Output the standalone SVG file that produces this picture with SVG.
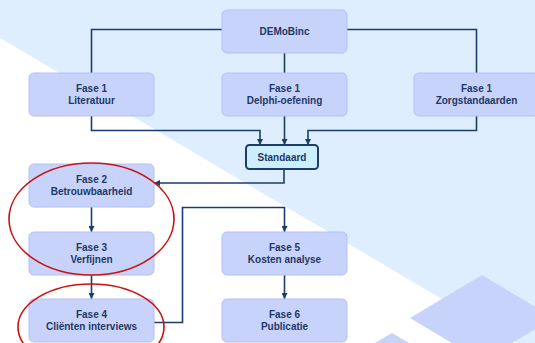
<svg xmlns="http://www.w3.org/2000/svg" width="535" height="343" viewBox="0 0 535 343">
  <defs>
    <style>
      .node rect { fill: #c8d3fc; stroke: #b2c0f7; stroke-width: 1; }
      .std rect { fill: #cdeeff; stroke: #1c3c6b; stroke-width: 2; }
      text { font-family: "Liberation Sans", Arial, sans-serif; font-size: 10px; font-weight: bold; fill: #1f3864; text-anchor: middle; }
      .conn path { fill: none; stroke: #1c3c6b; stroke-width: 1.6; }
      .mark { fill: none; stroke: #cc1111; stroke-width: 1.6; }
    </style>
    <marker id="arr" markerUnits="userSpaceOnUse" markerWidth="6" markerHeight="6" refX="6" refY="3" orient="auto">
      <path d="M0,0 L6,3 L0,6 z" fill="#1c3c6b"/>
    </marker>
  </defs>
  <rect x="0" y="0" width="535" height="343" fill="#dfeefe"/>
  <polygon points="0,38 535,354 0,354" fill="#ffffff"/>
  <polygon points="482,275 554,318 482,361 410,318" fill="#c8d3fc"/>
  <polygon points="392,333 409,343 375,343" fill="#c8d3fc"/>

  <g class="conn">
    <path d="M222,29.5 H91.5 V73"/>
    <path d="M347,29.5 H476.5 V73"/>
    <path d="M284.5,53 V73"/>
    <path d="M91.5,116 V130.5 H260 V145" marker-end="url(#arr)"/>
    <path d="M284.5,116 V145" marker-end="url(#arr)"/>
    <path d="M476.5,116 V130.5 H308 V145" marker-end="url(#arr)"/>
    <path d="M284,169 V183 H154" marker-end="url(#arr)"/>
    <path d="M91.5,207 V232" marker-end="url(#arr)"/>
    <path d="M91.5,275 V299" marker-end="url(#arr)"/>
    <path d="M154,322.5 H182.5 V207.5 H284.5 V232" marker-end="url(#arr)"/>
    <path d="M284.5,275 V299" marker-end="url(#arr)"/>
  </g>

  <g id="demobinc" class="node"><rect x="222" y="10" width="125" height="43" rx="5"/><text x="284.5" y="35">DEMoBinc</text></g>
  <g id="literatuur" class="node"><rect x="29" y="73" width="125" height="43" rx="5"/><text x="91.5" y="91.5">Fase 1</text><text x="91.5" y="103.5">Literatuur</text></g>
  <g id="delphi" class="node"><rect x="222" y="73" width="125" height="43" rx="5"/><text x="284.5" y="91.5">Fase 1</text><text x="284.5" y="103.5">Delphi-oefening</text></g>
  <g id="zorg" class="node"><rect x="414" y="73" width="125" height="43" rx="5"/><text x="476.5" y="91.5">Fase 1</text><text x="476.5" y="103.5">Zorgstandaarden</text></g>
  <g id="standaard" class="std"><rect x="246" y="145" width="72" height="24" rx="3.5"/><text x="282" y="161">Standaard</text></g>
  <g id="fase2" class="node"><rect x="29" y="164" width="125" height="43" rx="5"/><text x="91.5" y="182.5">Fase 2</text><text x="91.5" y="194.5">Betrouwbaarheid</text></g>
  <g id="fase3" class="node"><rect x="29" y="232" width="125" height="43" rx="5"/><text x="91.5" y="250.5">Fase 3</text><text x="91.5" y="262.5">Verfijnen</text></g>
  <g id="fase4" class="node"><rect x="29" y="299" width="125" height="43" rx="5"/><text x="91.5" y="317.5">Fase 4</text><text x="91.5" y="329.5">Cliënten interviews</text></g>
  <g id="fase5" class="node"><rect x="222" y="232" width="125" height="43" rx="5"/><text x="284.5" y="250.5">Fase 5</text><text x="284.5" y="262.5">Kosten analyse</text></g>
  <g id="fase6" class="node"><rect x="222" y="299" width="125" height="43" rx="5"/><text x="284.5" y="317.5">Fase 6</text><text x="284.5" y="329.5">Publicatie</text></g>

  <ellipse class="mark" cx="91.5" cy="219" rx="82.5" ry="56"/>
  <ellipse class="mark" cx="91" cy="327" rx="73" ry="43"/>
</svg>
